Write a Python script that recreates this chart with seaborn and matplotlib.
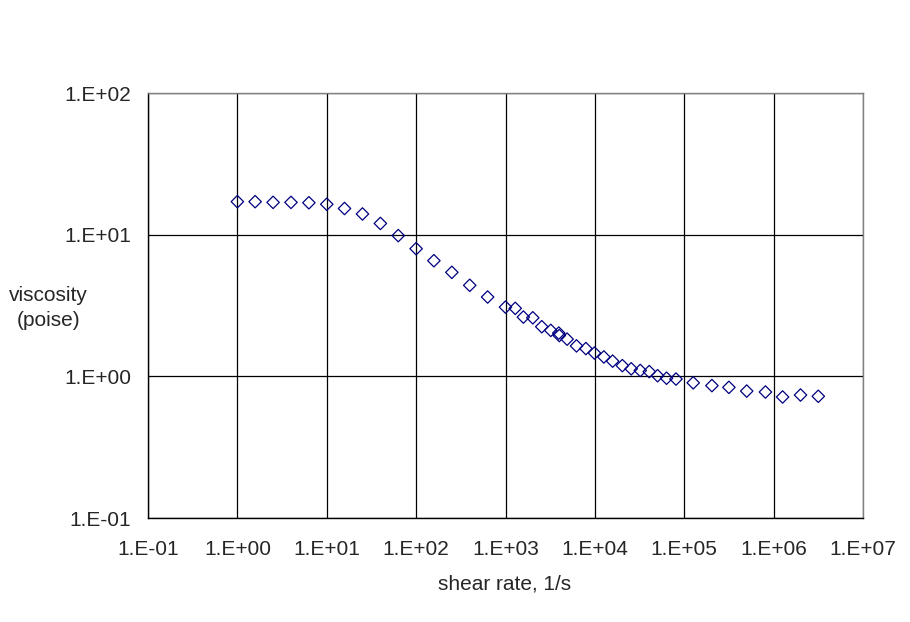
import numpy as np
import pandas as pd
import matplotlib
matplotlib.use("Agg")
import matplotlib.pyplot as plt
import matplotlib.ticker as mticker
import seaborn as sns

# data
shear_rate = [1.0, 1.58, 2.51, 3.98, 6.31, 10.0, 15.8, 25.1, 39.8, 63.1,
              100, 158, 251, 398, 631, 1000, 1285, 1585, 2020, 2546,
              3210, 3945, 4000, 4890, 6230, 7930, 9900, 12600, 15800, 20300,
              25500, 32200, 40600, 50300, 63400, 80800, 126000, 204000, 316000, 500000,
              810000, 1260000, 2000000, 3160000]
viscosity = [17.1, 17.1, 16.9, 16.9, 16.8, 16.4, 15.3, 14.0, 12.0, 9.85,
             7.96, 6.55, 5.42, 4.39, 3.63, 3.08, 3.02, 2.62, 2.59, 2.24,
             2.11, 2.02, 1.94, 1.83, 1.64, 1.57, 1.46, 1.37, 1.28, 1.19,
             1.13, 1.10, 1.08, 1.01, 0.97, 0.957, 0.90, 0.86, 0.836, 0.787,
             0.775, 0.715, 0.738, 0.723]
x_ticks = [1e-1, 1e0, 1e1, 1e2, 1e3, 1e4, 1e5, 1e6, 1e7]
y_ticks = [1e-1, 1e0, 1e1, 1e2]

df = pd.DataFrame({"shear": shear_rate, "visc": viscosity})

sns.set_style("white")
plt.rcParams["font.family"] = ["Liberation Sans", "DejaVu Sans"]

fig = plt.figure(figsize=(9.1, 6.22), dpi=100)
ax = fig.add_axes([0.16264, 0.16720, 0.78571, 0.68328])

sns.scatterplot(data=df, x="shear", y="visc", marker="D", s=40,
                facecolors="none", edgecolors="#000080", linewidth=0.9,
                ax=ax, zorder=3)

ax.set_xscale("log")
ax.set_yscale("log")
ax.set_xlim(1e-1, 1e7)
ax.set_ylim(1e-1, 1e2)
ax.set_xticks(x_ticks)
ax.set_yticks(y_ticks)
ax.xaxis.set_minor_locator(mticker.NullLocator())
ax.yaxis.set_minor_locator(mticker.NullLocator())
fmt = mticker.FuncFormatter(lambda v, p: "1.E%+03d" % int(round(np.log10(v))))
ax.xaxis.set_major_formatter(fmt)
ax.yaxis.set_major_formatter(fmt)

ax.grid(True, which="major", color="black", linewidth=0.9)
ax.set_axisbelow(True)
ax.tick_params(axis="both", which="major", direction="out", length=4,
               width=0.9, color="black", labelsize=15)
ax.tick_params(axis="x", pad=12)
ax.tick_params(axis="y", pad=8)

for side in ["left", "bottom"]:
    ax.spines[side].set_color("black")
    ax.spines[side].set_linewidth(1.0)
for side in ["top", "right"]:
    ax.spines[side].set_color("#808080")
    ax.spines[side].set_linewidth(1.0)

ax.set_xlabel("")
ax.set_ylabel("")
fig.text(505 / 910, 1 - 584 / 622, "shear rate, 1/s", ha="center", va="center",
         fontsize=15)
fig.text(48.5 / 910, 1 - 308 / 622, "viscosity\n(poise)", ha="center", va="center",
         fontsize=15, linespacing=1.4, multialignment="center")

fig.savefig("out.png", dpi=100, facecolor="white")
